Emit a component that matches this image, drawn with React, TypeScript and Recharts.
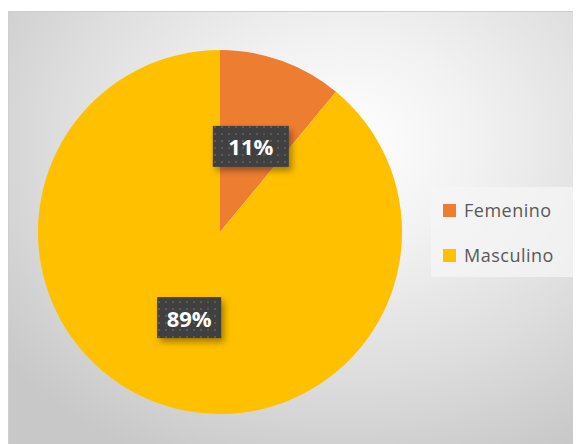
import React from "react";
import { PieChart, Pie, Cell, Legend } from "recharts";

const categories = ["Femenino", "Masculino"];
const values = [11, 89];
const percentLabels = ["11%", "89%"];
const colors = ["#ED7D31", "#FFC000"];

const data = categories.map((name, i) => ({ name, value: values[i], label: percentLabels[i] }));

const RAD = Math.PI / 180;

const renderLabel = (props: any) => {
  const { cx, cy, midAngle, outerRadius, index } = props;
  const r = outerRadius * 0.5;
  const x = cx + r * Math.cos(-midAngle * RAD);
  const y = cy + r * Math.sin(-midAngle * RAD);
  const w = index === 0 ? 76 : 64;
  const h = 41;
  return (
    <g>
      <rect x={x - w / 2} y={y - h / 2} width={w} height={h} fill="#3f3f3f" filter="url(#lblShadow)" />
      <rect x={x - w / 2} y={y - h / 2} width={w} height={h} fill="url(#dots)" />
      <text
        x={x}
        y={y}
        textAnchor="middle"
        dominantBaseline="central"
        fill="#ffffff"
        fontFamily="'Open Sans', sans-serif"
        fontWeight={700}
        fontSize={22}
      >
        {data[index].label}
      </text>
    </g>
  );
};

const renderLegend = () => (
  <div
    style={{
      position: "relative",
      width: 143,
      height: 90,
      background: "rgba(245,245,245,0.75)",
      fontFamily: "'Open Sans', sans-serif",
      fontSize: 18,
      color: "#595959",
    }}
  >
    {data.map((d, i) => (
      <div key={d.name} style={{ position: "absolute", left: 12, top: i === 0 ? 13 : 58, display: "flex", alignItems: "center" }}>
        <span style={{ display: "inline-block", width: 13, height: 13, background: colors[i], marginRight: 8 }} />
        <span style={{ lineHeight: "20px", letterSpacing: 0.5 }}>{d.name}</span>
      </div>
    ))}
  </div>
);

export default function App() {
  return (
    <div
      style={{
        marginTop: 3,
        width: 580,
        height: 440,
        border: "1px solid #cfcfcf",
        boxSizing: "border-box",
        background: "radial-gradient(ellipse 75% 80% at 58% 30%, #ffffff 0%, #f2f2f2 30%, #dedede 65%, #c8c8c8 100%)",
        position: "relative",
      }}
    >
      <PieChart width={578} height={438} margin={{ top: 0, right: 0, bottom: 0, left: 0 }}>
        <defs>
          <pattern id="dots" width="7" height="7" patternUnits="userSpaceOnUse">
            <rect x="2" y="2" width="2" height="2" fill="#5a5a5a" />
          </pattern>
          <filter id="lblShadow" x="-20%" y="-20%" width="150%" height="160%">
            <feDropShadow dx="3" dy="4" stdDeviation="3" floodColor="#000" floodOpacity="0.35" />
          </filter>
        </defs>
        <Pie
          data={data}
          dataKey="value"
          nameKey="name"
          cx={211}
          cy={220}
          outerRadius={182}
          startAngle={90}
          endAngle={-270}
          stroke="none"
          isAnimationActive={false}
          label={renderLabel}
          labelLine={false}
        >
          {data.map((d, i) => (
            <Cell key={d.name} fill={colors[i]} />
          ))}
        </Pie>
        <Legend
          content={renderLegend}
          wrapperStyle={{ position: "absolute", left: 422, top: 175, width: 143, height: 90 }}
        />
      </PieChart>
    </div>
  );
}
